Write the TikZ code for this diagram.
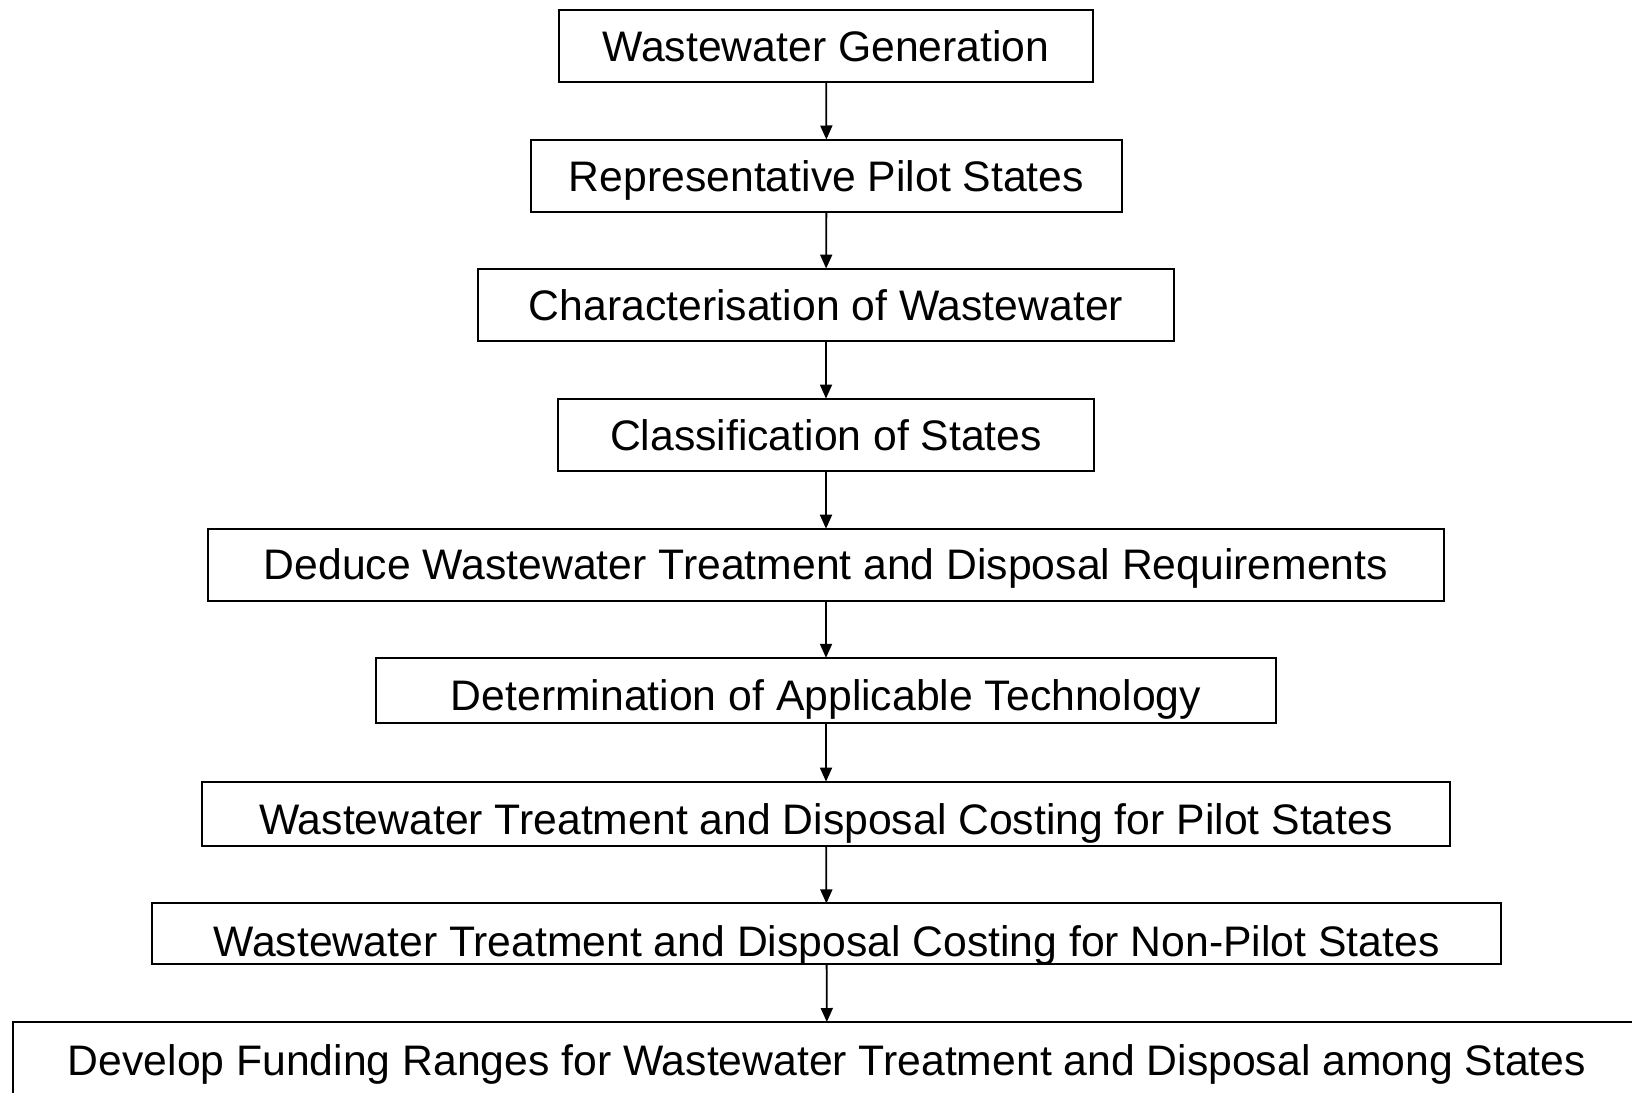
\documentclass[tikz,border=0pt]{standalone}
\usepackage{fontspec}
\setmainfont{Liberation Sans}
\usetikzlibrary{arrows.meta}
\begin{document}
\begin{tikzpicture}[x=0.5pt,y=-0.5pt,
  stepbox/.style={draw=black,line width=1pt,inner sep=0pt,outer sep=0pt,
    font=\fontsize{21.35pt}{24pt}\selectfont,text height=15.3pt,text depth=0pt},
  arr/.style={-{Triangle[length=7pt,width=6pt]},line width=0.9pt}]
\useasboundingbox (0,0) rectangle (1632,1092);
\node[stepbox,minimum width=267pt,minimum height=35.9pt] (b1) at (826,46.3) {Wastewater Generation};
\node[stepbox,minimum width=295.5pt,minimum height=36.4pt] (b2) at (826.5,175.9) {Representative Pilot States};
\node[stepbox,minimum width=348pt,minimum height=36.45pt] (b3) at (826,305) {Characterisation of Wastewater};
\node[stepbox,minimum width=268pt,minimum height=36.45pt] (b4) at (826,435) {Classification of States};
\node[stepbox,minimum width=618pt,minimum height=35.9pt] (b5) at (826,564.6) {Deduce Wastewater Treatment and Disposal Requirements};
\node[stepbox,minimum width=450pt,minimum height=32.8pt,text height=20.3pt] (b6) at (826,690.6) {Determination of Applicable Technology};
\node[stepbox,minimum width=624pt,minimum height=32.3pt,text height=20.3pt] (b7) at (826,813.9) {Wastewater Treatment and Disposal Costing for Pilot States};
\node[stepbox,minimum width=674.5pt,minimum height=30.2pt,text height=23.3pt] (b8) at (826.5,933.6) {Wastewater Treatment and Disposal Costing for Non-Pilot States};
\node[stepbox,minimum width=814.25pt,minimum height=40pt,text height=13.3pt] (b9) at (827,1062) {Develop Funding Ranges for Wastewater Treatment and Disposal among States};
\draw[arr] (b1) -- (b2);
\draw[arr] (b2) -- (b3);
\draw[arr] (b3) -- (b4);
\draw[arr] (b4) -- (b5);
\draw[arr] (b5) -- (b6);
\draw[arr] (b6) -- (b7);
\draw[arr] (b7) -- (b8);
\draw[arr] (b8) -- (b9);
\end{tikzpicture}
\end{document}
